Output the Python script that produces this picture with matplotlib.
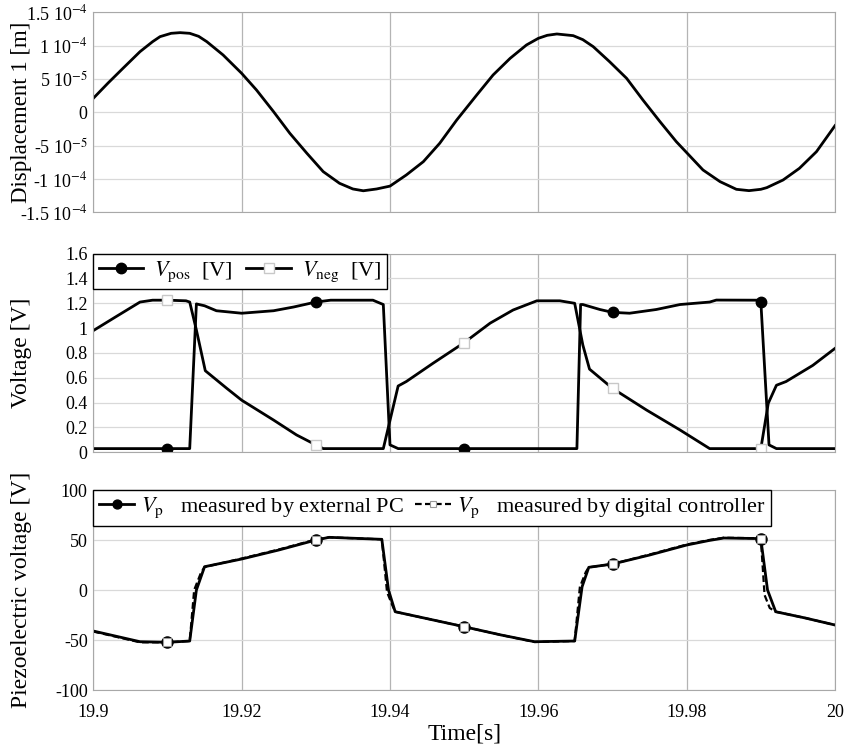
import matplotlib
matplotlib.use('Agg')
import matplotlib.pyplot as plt
import numpy as np

plt.rcParams['font.family'] = ['Liberation Serif', 'DejaVu Serif']
plt.rcParams['mathtext.fontset'] = 'stix'

# Displacement 1 [m] (in 1e-5 m)
t_disp = [19.900, 19.902, 19.904, 19.9063, 19.908, 19.909, 19.9105, 19.9117, 19.913,
          19.9142, 19.9153, 19.9175, 19.920, 19.922, 19.9243, 19.9265, 19.9288, 19.931,
          19.9332, 19.935, 19.9364, 19.9382, 19.940, 19.9422, 19.9445, 19.9467, 19.949,
          19.9517, 19.9539, 19.9562, 19.9584, 19.960, 19.9612, 19.9625, 19.9647, 19.966,
          19.9674, 19.9696, 19.9719, 19.9741, 19.9764, 19.9786, 19.980, 19.9822, 19.9845,
          19.9867, 19.9884, 19.990, 19.9908, 19.993, 19.9952, 19.9975, 20.000]
disp = [2.1, 4.4, 6.6, 9.1, 10.6, 11.35, 11.85, 11.95, 11.85,
        11.4, 10.6, 8.6, 5.85, 3.35, 0.1, -3.15, -6.15, -8.9,
        -10.65, -11.5, -11.77, -11.5, -11.07, -9.4, -7.4, -4.65, -1.15,
        2.6, 5.6, 8.1, 10.1, 11.1, 11.55, 11.75, 11.5, 10.9,
        9.85, 7.6, 5.1, 1.85, -1.4, -4.4, -6.05, -8.65, -10.4,
        -11.55, -11.75, -11.55, -11.3, -10.15, -8.4, -5.9, -2.0]

# Voltage [V]
t_pos = [19.900, 19.910, 19.913, 19.9139, 19.915, 19.9166, 19.920, 19.9243, 19.927,
         19.930, 19.932, 19.9377, 19.9391, 19.940, 19.9411, 19.950, 19.9652, 19.9657,
         19.966, 19.9683, 19.970, 19.9723, 19.9759, 19.9791, 19.9831, 19.984, 19.9895,
         19.990, 19.9911, 19.9921, 20.000]
v_pos = [0.03, 0.03, 0.03, 1.195, 1.18, 1.14, 1.12, 1.14, 1.17,
         1.21, 1.225, 1.225, 1.19, 0.06, 0.03, 0.03, 0.03, 1.19,
         1.19, 1.15, 1.127, 1.12, 1.15, 1.19, 1.21, 1.226, 1.225,
         1.21, 0.06, 0.03, 0.03]

t_neg = [19.900, 19.903, 19.9063, 19.908, 19.910, 19.9125, 19.913, 19.9139, 19.9151,
         19.918, 19.920, 19.9243, 19.9274, 19.930, 19.931, 19.9391, 19.9411, 19.9422,
         19.9458, 19.950, 19.9535, 19.9566, 19.9598, 19.9629, 19.9649, 19.966, 19.9669,
         19.970, 19.9746, 19.9791, 19.9831, 19.990, 19.991, 19.9921, 19.9934, 19.997, 20.000]
v_neg = [0.98, 1.09, 1.21, 1.225, 1.225, 1.22, 1.21, 0.985, 0.657,
         0.515, 0.42, 0.26, 0.14, 0.06, 0.03, 0.03, 0.534, 0.57,
         0.717, 0.883, 1.04, 1.146, 1.22, 1.22, 1.20, 0.864, 0.67,
         0.515, 0.34, 0.18, 0.03, 0.03, 0.395, 0.54, 0.57, 0.70, 0.837]

# Piezoelectric voltage [V]
t_ext = [19.900, 19.9063, 19.910, 19.913, 19.9139, 19.915, 19.920, 19.925, 19.930,
         19.9318, 19.9389, 19.9398, 19.9407, 19.950, 19.955, 19.9595, 19.9649, 19.9659,
         19.9668, 19.970, 19.975, 19.980, 19.983, 19.985, 19.9895, 19.990, 19.9909,
         19.992, 19.996, 20.000]
vp_ext = [-41, -51.7, -52.3, -51, 0, 23.3, 31, 40, 50,
          52.7, 50.7, 0, -21.7, -36.7, -45, -51.7, -51, 3.3,
          22.7, 26, 35, 45, 49.5, 52, 51.5, 51, 0,
          -21.7, -28, -35]

t_dig = [19.900, 19.9063, 19.910, 19.913, 19.9136, 19.9145, 19.915, 19.920, 19.925,
         19.930, 19.9318, 19.9389, 19.9396, 19.9403, 19.9407, 19.950, 19.955, 19.9595,
         19.9649, 19.9656, 19.9664, 19.9668, 19.970, 19.975, 19.980, 19.983, 19.985,
         19.9895, 19.990, 19.9905, 19.9912, 19.992, 19.996, 20.000]
vp_dig = [-41.5, -52.3, -52.3, -51, 0, 17, 23, 31.5, 40.5,
          50.5, 52.7, 50.7, -2, -15, -21.7, -36.7, -45, -52,
          -51, 3, 18, 22.7, 26, 35.5, 45.5, 50, 52.3,
          51.8, 51, -5, -18, -21.7, -28, -35]

mark_t = [19.91, 19.93, 19.95, 19.97, 19.99]

x_ticks = [19.9, 19.92, 19.94, 19.96, 19.98, 20.0]
x_labels = ['19.9', '19.92', '19.94', '19.96', '19.98', '20']
disp_ticks = [-15, -10, -5, 0, 5, 10, 15]
disp_labels = ['-1.5 10$^{-4}$', '-1 10$^{-4}$', '-5 10$^{-5}$', '0',
               '5 10$^{-5}$', '1 10$^{-4}$', '1.5 10$^{-4}$']
volt_ticks = [0, 0.2, 0.4, 0.6, 0.8, 1.0, 1.2, 1.4, 1.6]
volt_labels = ['0', '0.2', '0.4', '0.6', '0.8', '1', '1.2', '1.4', '1.6']
piezo_ticks = [-100, -50, 0, 50, 100]
piezo_labels = ['-100', '-50', '0', '50', '100']


def marks(t):
    return [i for i, v in enumerate(t) if np.any(np.isclose(v, mark_t, atol=1e-6))]


def style(ax):
    ax.set_xlim(19.9, 20.0)
    ax.set_xticks(x_ticks)
    ax.grid(axis='x', color='#b4b4b4', lw=0.9)
    ax.grid(axis='y', color='#d9d9d9', lw=0.9)
    ax.set_axisbelow(True)
    for s in ax.spines.values():
        s.set_color('#a8a8a8')
    ax.tick_params(length=0, labelsize=13, pad=4)
    ax.tick_params(axis='x', pad=10)
    ax.yaxis.set_label_coords(-0.082, 0.5)


fig = plt.figure(figsize=(8.45, 7.51), dpi=100)
ax1 = fig.add_axes([0.1104, 0.7173, 0.8778, 0.2663])
ax2 = fig.add_axes([0.1104, 0.3977, 0.8778, 0.2646])
ax3 = fig.add_axes([0.1104, 0.0812, 0.8778, 0.2663])

# top panel
ax1.plot(t_disp, disp, color='black', lw=2.0)
ax1.set_ylim(-15, 15)
ax1.set_yticks(disp_ticks)
ax1.set_yticklabels(disp_labels)
style(ax1)
ax1.set_xticklabels([])
ax1.set_ylabel('Displacement 1 [m]', fontsize=16.5)

# middle panel
ax2.plot(t_pos, v_pos, color='black', lw=2.0, marker='o', ms=7.5,
         markevery=marks(t_pos), label=r'$V_{\mathrm{pos}}$  [V]')
ax2.plot(t_neg, v_neg, color='black', lw=2.0, marker='s', ms=7.5, mfc='white',
         mec='#c8c8c8', mew=1.0, markevery=marks(t_neg), label=r'$V_{\mathrm{neg}}$  [V]')
ax2.set_ylim(0, 1.6)
ax2.set_yticks(volt_ticks)
ax2.set_yticklabels(volt_labels)
style(ax2)
ax2.set_xticklabels([])
ax2.set_ylabel('Voltage [V]', fontsize=17)
leg = ax2.legend(loc='upper left', bbox_to_anchor=(0, 1), borderaxespad=0, ncol=2,
                 fontsize=16, fancybox=False, framealpha=1, edgecolor='black',
                 handlelength=2.0, handletextpad=0.5, columnspacing=0.6,
                 borderpad=0.25)
leg.get_frame().set_linewidth(1.0)

# bottom panel
ax3.plot(t_ext, vp_ext, color='black', lw=2.0, marker='o', ms=8,
         markevery=marks(t_ext), label=r'$V_{\mathrm{p}}$   measured by external PC')
ax3.plot(t_dig, vp_dig, color='black', lw=1.6, ls=(0, (3, 1.5)), marker='s', ms=5.5,
         mfc='white', mec='#999999', mew=0.8, markevery=marks(t_dig),
         label=r'$V_{\mathrm{p}}$   measured by digital controller')
ax3.set_ylim(-100, 100)
ax3.set_yticks(piezo_ticks)
ax3.set_yticklabels(piezo_labels)
style(ax3)
ax3.set_xticklabels(x_labels)
ax3.set_ylabel('Piezoelectric voltage [V]', fontsize=17)
ax3.set_xlabel('Time[s]', fontsize=17, labelpad=2)
leg3 = ax3.legend(loc='upper left', bbox_to_anchor=(0, 1), borderaxespad=0, ncol=2,
                  fontsize=16, fancybox=False, framealpha=1, edgecolor='black',
                  handlelength=1.6, handletextpad=0.3, columnspacing=0.5,
                  borderpad=0.25, markerscale=0.8)
leg3.get_frame().set_linewidth(1.0)

fig.savefig('out.png', dpi=100)
